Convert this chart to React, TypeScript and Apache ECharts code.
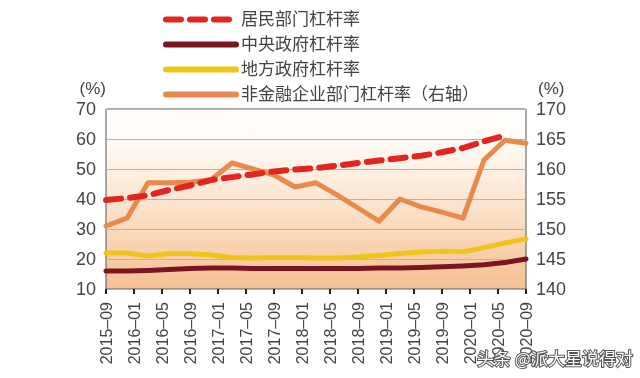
import React, { useEffect, useRef } from 'react';
import * as echarts from 'echarts';

// Quarterly observations, 2015-09 … 2020-09
const quarters = [
  '2015-09', '2015-12', '2016-03', '2016-06', '2016-09', '2016-12', '2017-03',
  '2017-06', '2017-09', '2017-12', '2018-03', '2018-06', '2018-09', '2018-12',
  '2019-03', '2019-06', '2019-09', '2019-12', '2020-03', '2020-06', '2020-09',
];
const household = [39.7, 40.3, 41.2, 43.0, 44.5, 46.3, 47.3, 48.2, 49.2, 49.8, 50.3, 51.1, 52.0, 52.8, 53.6, 54.4, 55.6, 57.0, 59.2, 61.2, null];
const centralGov = [16.0, 16.0, 16.2, 16.5, 16.8, 17.0, 17.0, 16.8, 16.8, 16.8, 16.8, 16.8, 16.8, 17.0, 17.0, 17.2, 17.4, 17.7, 18.1, 18.8, 20.0];
const localGov = [22.0, 22.0, 21.0, 21.8, 21.8, 21.3, 20.5, 20.3, 20.5, 20.5, 20.3, 20.3, 20.7, 21.2, 21.8, 22.3, 22.6, 22.4, 23.8, 25.3, 26.7];
const corporate = [150.5, 151.8, 157.7, 157.7, 157.8, 158.2, 161.0, 160.0, 159.0, 157.0, 157.7, 155.7, 153.5, 151.3, 155.0, 153.7, 152.8, 151.8, 161.5, 164.8, 164.3];

const seriesNames = ['居民部门杠杆率', '中央政府杠杆率', '地方政府杠杆率', '非金融企业部门杠杆率（右轴）'];
const leftTicks = { min: 10, max: 70, interval: 10 };
const rightTicks = { min: 140, max: 170, interval: 5 };

// monthly category axis (labels every 4 months)
const months: string[] = [];
for (let y = 2015, m = 9; y < 2020 || (y === 2020 && m <= 9); ) {
  months.push(`${y}–${String(m).padStart(2, '0')}`);
  m++;
  if (m > 12) { m = 1; y++; }
}
const toMonthly = (vals: (number | null)[]) => {
  const out: (number | null)[] = months.map(() => null);
  quarters.forEach((q, i) => {
    const [yy, mm] = q.split('-').map(Number);
    const idx = (yy - 2015) * 12 + (mm - 9);
    out[idx] = vals[i];
  });
  return out;
};

const FONT = '"Liberation Sans", Arial, "Noto Sans CJK SC", sans-serif';

export default function App() {
  const ref = useRef<HTMLDivElement>(null);
  useEffect(() => {
    if (!ref.current) return;
    const chart = echarts.init(ref.current, undefined, { renderer: 'svg' });
    const lineBase = (name: string, data: (number | null)[], color: string, extra: any = {}) => ({
      name,
      type: 'line',
      data: toMonthly(data),
      connectNulls: true,
      symbol: 'none',
      lineStyle: { color, width: 5, cap: 'round', join: 'round', ...(extra.lineStyle || {}) },
      itemStyle: { color },
      z: extra.z ?? 2,
      yAxisIndex: extra.yAxisIndex ?? 0,
    });
    chart.setOption({
      animation: false,
      textStyle: { fontFamily: FONT },
      legend: {
        orient: 'vertical',
        left: 158,
        top: 6,
        itemWidth: 70,
        itemHeight: 14,
        itemGap: 8,
        data: seriesNames,
        textStyle: { fontSize: 17, color: '#444', fontFamily: FONT },
        lineStyle: { width: 6 },
        itemStyle: { opacity: 0 },
      },
      grid: {
        left: 106,
        right: 114,
        top: 109,
        bottom: 89,
        show: true,
        borderColor: '#555',
        borderWidth: 1,
        backgroundColor: new echarts.graphic.LinearGradient(0, 0, 0, 1, [
          { offset: 0, color: '#ffffff' },
          { offset: 0.2, color: '#fffaf4' },
          { offset: 0.55, color: '#fbe2cb' },
          { offset: 1, color: '#f5c092' },
        ]),
      },
      xAxis: {
        type: 'category',
        data: months,
        boundaryGap: false,
        axisLine: { show: false },
        axisTick: { show: true, interval: 3, length: 5, lineStyle: { color: '#222', width: 2 } },
        axisLabel: { interval: 3, rotate: 90, fontSize: 16, color: '#444', margin: 13, fontFamily: FONT },
        splitLine: { show: false },
      },
      yAxis: [
        {
          type: 'value',
          ...leftTicks,
          name: '(%)',
          nameLocation: 'end',
          nameGap: 12,
          nameTextStyle: { fontSize: 17, color: '#444', align: 'right', fontFamily: FONT },
          axisLine: { show: false },
          axisTick: { show: false },
          axisLabel: { fontSize: 18, color: '#444', margin: 10, fontFamily: FONT },
          splitLine: { show: true, lineStyle: { color: '#b5b5b5', width: 1 } },
        },
        {
          type: 'value',
          ...rightTicks,
          name: '(%)',
          nameLocation: 'end',
          nameGap: 12,
          nameTextStyle: { fontSize: 17, color: '#444', align: 'left', padding: [0, 0, 0, 12], fontFamily: FONT },
          axisLine: { show: false },
          axisTick: { show: false },
          axisLabel: { fontSize: 18, color: '#444', margin: 10, fontFamily: FONT },
          splitLine: { show: false },
        },
      ],
      series: [
        lineBase(seriesNames[0], household, '#e2261f', { z: 5, lineStyle: { width: 6, type: [15, 9], cap: 'round' } }),
        lineBase(seriesNames[1], centralGov, '#7b1521'),
        lineBase(seriesNames[2], localGov, '#f0c517'),
        lineBase(seriesNames[3], corporate, '#e88a4c', { yAxisIndex: 1, z: 3 }),
      ],
      graphic: [
        {
          type: 'text',
          left: 476,
          top: 348,
          style: {
            text: '头条 @派大星说得对',
            fontSize: 17,
            fontFamily: '"Noto Sans CJK SC", sans-serif',
            fill: '#ffffff',
            stroke: '#555555',
            lineWidth: 2,
          },
          z: 100,
        },
      ],
    });
    return () => chart.dispose();
  }, []);
  return <div ref={ref} style={{ position: 'fixed', left: 0, top: 0, width: 640, height: 378 }} />;
}
